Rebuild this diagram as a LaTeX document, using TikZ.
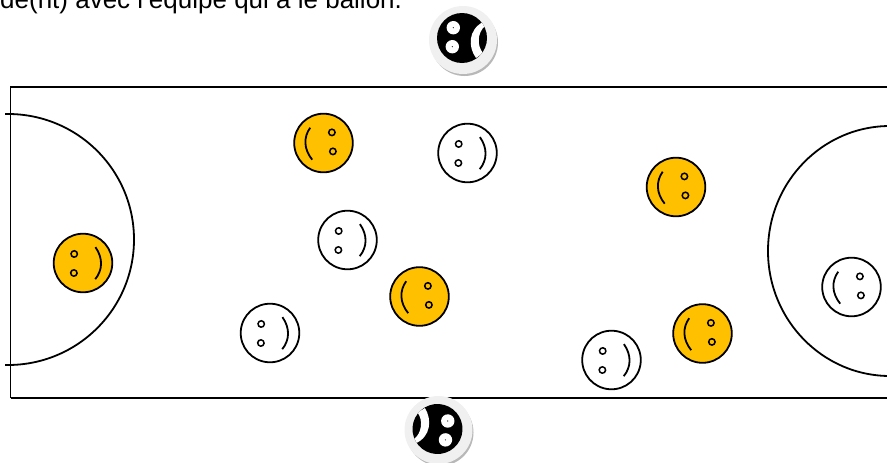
\documentclass[tikz,border=0pt]{standalone}
\usepackage{fontspec}
\setmainfont{Liberation Sans}
\definecolor{gold}{HTML}{FFC000}
\tikzset{
  x=1pt,y=-1pt,
  line/.style={draw=black,line width=1.8pt},
  pics/smiley/.style args={#1/#2}{code={
    \begin{scope}[rotate=#2]
      \draw[line,fill=#1] (0,0) circle[radius=29.3];
      \draw[line,fill=#1,line width=1.5pt] (8.4,-10.6) circle[radius=3.2];
      \draw[line,fill=#1,line width=1.5pt] (9.4,8.4) circle[radius=3.2];
      \draw[line] (-13.3,-15.3) .. controls (-20,-6) and (-20,6) .. (-11.3,16.7);
    \end{scope}}},
  pics/blackface/.style args={#1/#2/#3}{code={
    \fill[black!28] (1.5,2.5) circle[radius=33.5];
    \fill[black!6] (0,0) circle[radius=34];
    \begin{scope}[shift={(#2,#3)},rotate=#1]
      \fill[black] (0,0) circle[radius=25];
      \fill[white] (-8.7,-10.3) circle[radius=6.7];
      \fill[white] (-9.7,8.7) circle[radius=6.7];
      \fill[black] (-8.7,-10.3) circle[radius=.6];
      \fill[black] (-9.7,8.7) circle[radius=.6];
      \begin{scope}
        \clip (0,0) circle[radius=25];
        \fill[white] (21,-16) .. controls (6,-8) and (6,9) .. (14,20)
          -- (21,15) .. controls (15,8) and (15,-5) .. (23,-12) -- cycle;
      \end{scope}
    \end{scope}}}
}
\begin{document}
\begin{tikzpicture}
\useasboundingbox (0,0) rectangle (887,463);
\node[anchor=base west,inner sep=0pt,font=\fontsize{26pt}{28pt}\selectfont] (caption) at (0,8.5) {de(nt) avec l'équipe qui a le ballon.};
\draw[line] (10.5,398) -- (10.5,87) -- (890,87);
\draw[line] (10.5,398) -- (890,398);
\draw[line] (5,114) -- (8,114) arc[start angle=90,end angle=-90,x radius=126,y radius=-125.5] -- (5,365);
\draw[line] (890,126) arc[start angle=90,end angle=270,x radius=122,y radius=-125];
\pic at (323.5,143) {smiley={gold/0}};
\pic at (676,187) {smiley={gold/0}};
\pic at (419.5,296.5) {smiley={gold/0}};
\pic at (702.5,333.5) {smiley={gold/0}};
\pic at (83,263) {smiley={gold/176}};
\pic at (467.5,153) {smiley={white/176}};
\pic at (347.5,240) {smiley={white/176}};
\pic at (270,333) {smiley={white/176}};
\pic at (611.5,360) {smiley={white/176}};
\pic at (851.5,287) {smiley={white/0}};
\pic at (463,40) {blackface={0/-1/-2}};
\pic at (438.5,430) {blackface={176/-1/-1}};
\end{tikzpicture}
\end{document}
